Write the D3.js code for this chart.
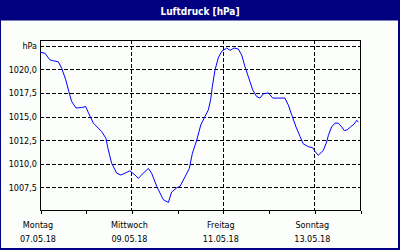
<!DOCTYPE html>
<html>
<head>
<meta charset="utf-8">
<script src="https://cdn.jsdelivr.net/npm/d3@7"></script>
<style>
  body { margin: 0; background: #fff; }
  svg { display: block; }
  text { font-family: 'DejaVu Sans Condensed', 'DejaVu Sans', sans-serif; font-stretch: condensed; }
</style>
</head>
<body>
<div id="chart"></div>
<script>
// hours since Montag 07.05.18 00:00
var hours = [0, 2.6, 5.2, 7, 9.6, 11.4, 13.5, 15.2, 16.6, 18.9, 21.9, 24, 25.4, 28, 32.4, 34.6, 35.7,
  37.6, 40.3, 42.5, 44.6, 47.2, 49.9, 51.6, 54.2, 56.9, 58.6, 61.3, 64.7, 67.4, 69.1, 71.8, 73.5,
  76.1, 78.4, 80, 82.3, 84.4, 86.6, 88.4, 89.6, 90.5, 91.9, 93.6, 95.4, 98, 99.8, 101.9, 104.1,
  105.9, 107.6, 109.4, 111.7, 113.8, 115.5, 117.2, 119.9, 122.2, 128.6, 130.4, 132.1, 134.4, 136.5,
  138.2, 140.9, 143.2, 144.4, 146.1, 148.7, 150.5, 151.4, 153.1, 154.9, 156.6, 158.4, 159.8, 161.3,
  163.1, 164.9, 166.3, 167.1]
var pressure = [1021.8, 1021.7, 1021.0, 1020.9, 1020.8, 1020.1, 1018.9, 1017.6, 1016.6, 1015.9, 1015.95, 1016.05, 1015.4, 1014.3, 1013.4, 1012.7, 1011.6,
  1010.05, 1009.0, 1008.8, 1009.0, 1009.25, 1008.8, 1008.45, 1009.0, 1009.5, 1009.0, 1007.6, 1006.2, 1005.9, 1007.0, 1007.45, 1007.6,
  1008.6, 1009.5, 1011.1, 1012.5, 1014.1, 1015.0, 1015.7, 1016.8, 1018.2, 1019.95, 1021.2, 1021.9, 1022.25, 1022.0, 1022.25, 1022.15,
  1021.5, 1020.3, 1019.2, 1017.8, 1017.1, 1016.95, 1017.4, 1017.5, 1016.95, 1016.95, 1016.2, 1015.2, 1013.9, 1012.9,
  1012.1, 1011.8, 1011.7, 1011.3, 1010.9, 1011.4, 1012.3, 1013.0, 1013.9, 1014.3, 1014.3, 1013.9, 1013.5, 1013.6,
  1013.9, 1014.2, 1014.6, 1014.4]

var dayNames = ['Montag', 'Mittwoch', 'Freitag', 'Sonntag']
var dayDates = ['07.05.18', '09.05.18', '11.05.18', '13.05.18']
var labelHours = [0, 48, 96, 144]
var gridHours = [48, 96, 144]
var yTicks = [1007.5, 1010, 1012.5, 1015, 1017.5, 1020]

var width = 400, height = 250
var margin = {top: 40, right: 40, bottom: 40, left: 40}

var svg = d3.select('#chart')
  .append('svg')
  .attr('width', width)
  .attr('height', height)

svg.append('rect')
  .attr('width', width).attr('height', height)
  .attr('fill', '#fbfefb')

// title bar
svg.append('rect')
  .attr('x', 0).attr('y', 0)
  .attr('width', width).attr('height', 20.5)
  .attr('fill', '#000080')
svg.append('text')
  .attr('x', 200).attr('y', 14.5)
  .attr('text-anchor', 'middle')
  .attr('fill', '#fff')
  .style('font-weight', 'bold')
  .style('font-size', '10px')
  .text('Luftdruck [hPa]')

// window frame
svg.append('rect').attr('x', 0).attr('y', 0).attr('width', 1).attr('height', height).attr('fill', '#000080')
svg.append('rect').attr('x', width - 2).attr('y', 0).attr('width', 2).attr('height', height).attr('fill', '#000080')
svg.append('rect').attr('x', 0).attr('y', height - 2).attr('width', width).attr('height', 2).attr('fill', '#000080')

var x = d3.scaleLinear()
  .domain([0, 168])
  .range([margin.left, width - margin.right])

var y = d3.scaleLinear()
  .domain([1005.1, 1023.1])
  .range([height - margin.bottom, margin.top])

var g = svg.append('g')

// grid
g.selectAll('.hgrid')
  .data(yTicks.concat([1022.5]))
  .enter()
  .append('line')
  .attr('x1', x(0)).attr('x2', x(168))
  .attr('y1', d => Math.round(y(d)) + 0.5)
  .attr('y2', d => Math.round(y(d)) + 0.5)
  .attr('stroke', '#000')
  .attr('stroke-dasharray', '4,2')
  .attr('shape-rendering', 'crispEdges')

g.selectAll('.vgrid')
  .data(gridHours)
  .enter()
  .append('line')
  .attr('x1', d => Math.round(x(d)) + 0.5)
  .attr('x2', d => Math.round(x(d)) + 0.5)
  .attr('y1', y.range()[1]).attr('y2', y.range()[0])
  .attr('stroke', '#000')
  .attr('stroke-dasharray', '4,2')
  .attr('shape-rendering', 'crispEdges')

// frame
g.append('rect')
  .attr('x', x(0) + 0.5).attr('y', margin.top + 0.5)
  .attr('width', x(168) - x(0)).attr('height', height - margin.top - margin.bottom)
  .attr('fill', 'none')
  .attr('stroke', '#000')
  .attr('shape-rendering', 'crispEdges')

// x axis ticks
var xAxis = d3.axisBottom(x)
  .tickValues(d3.range(0, 169, 24))
  .tickSize(3)
  .tickFormat('')
g.append('g')
  .attr('transform', 'translate(0.5,' + (height - margin.bottom + 0.5) + ')')
  .call(xAxis)
  .call(a => a.select('.domain').remove())
  .call(a => a.selectAll('line').attr('shape-rendering', 'crispEdges'))

// y labels
g.selectAll('.ylab')
  .data(yTicks)
  .enter()
  .append('text')
  .attr('x', 37).attr('y', d => y(d) + 3.5)
  .attr('text-anchor', 'end')
  .style('font-size', '9px')
  .attr('fill', '#000')
  .text(d => d3.format('.1f')(d).replace('.', ','))
g.append('text')
  .attr('x', 37).attr('y', y(1022.5) + 3.5)
  .attr('text-anchor', 'end')
  .style('font-size', '9px')
  .text('hPa')

// x labels
g.selectAll('.xday')
  .data(labelHours)
  .enter()
  .append('text')
  .attr('x', d => x(d) - 2)
  .attr('y', 228)
  .attr('text-anchor', 'middle')
  .style('font-size', '9px')
  .text((d, i) => dayNames[i])
g.selectAll('.xdate')
  .data(labelHours)
  .enter()
  .append('text')
  .attr('x', d => x(d) - 2)
  .attr('y', 242)
  .attr('text-anchor', 'middle')
  .style('font-size', '9px')
  .text((d, i) => dayDates[i])

// line
var line = d3.line()
  .x((d, i) => x(hours[i]))
  .y(d => y(d))

g.append('path')
  .datum(pressure)
  .attr('fill', 'none')
  .attr('stroke', '#0000ff')
  .attr('stroke-width', 1)
  .attr('d', line)
</script>
</body>
</html>
